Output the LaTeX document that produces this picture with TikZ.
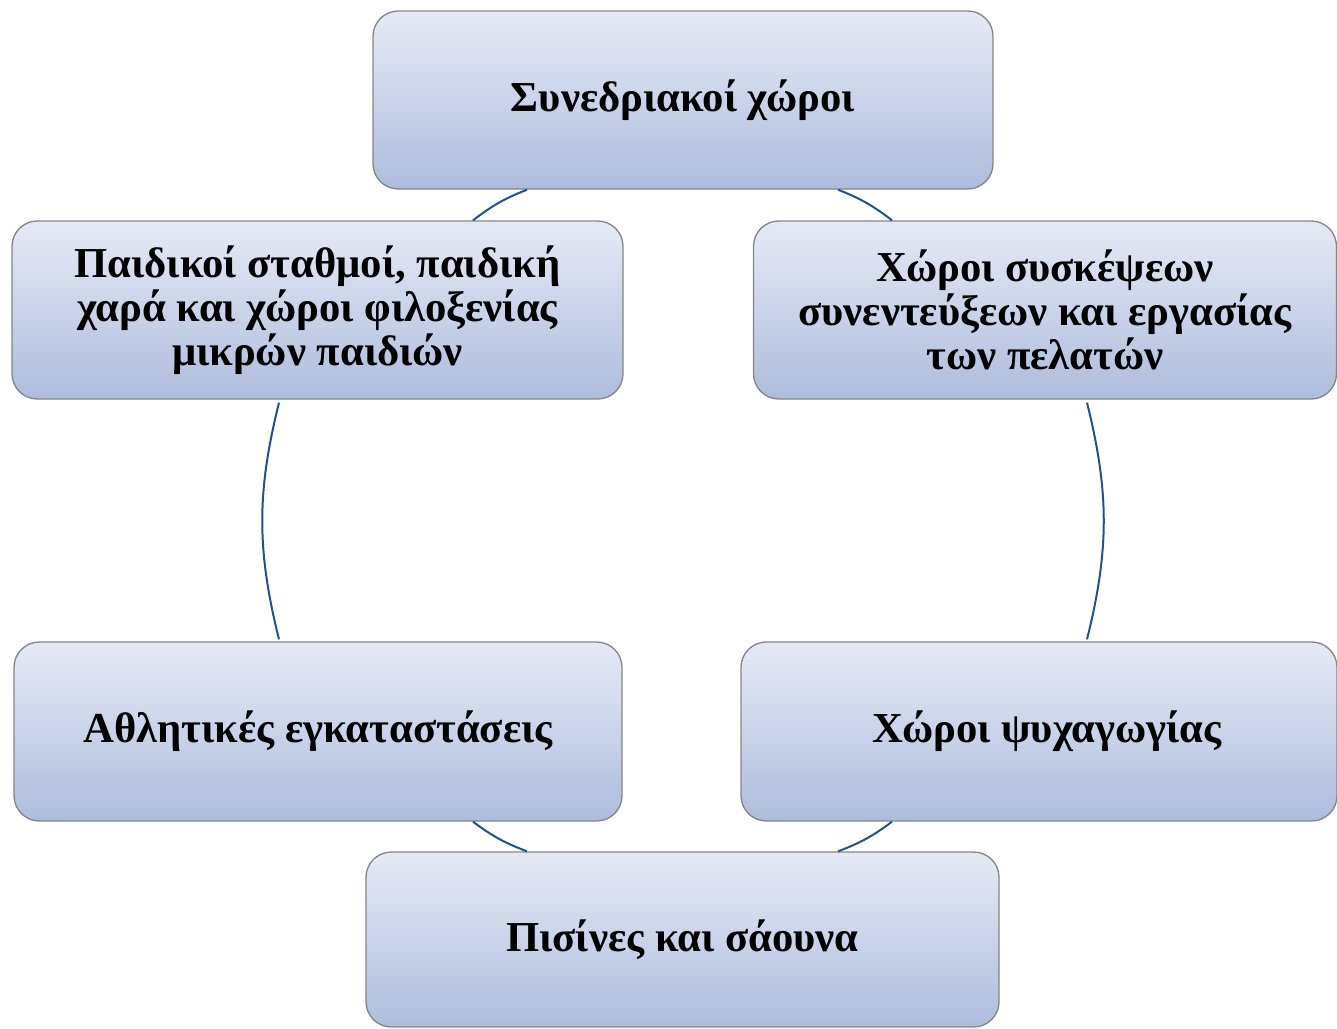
\documentclass[tikz,border=0pt]{standalone}
\usepackage{fontspec}
\setmainfont{Liberation Serif}
\usetikzlibrary{calc}
\definecolor{boxtop}{HTML}{E6EAF5}
\definecolor{boxbot}{HTML}{AEBCDC}
\definecolor{boxline}{HTML}{858585}
\definecolor{arcblue}{HTML}{24508E}
\begin{document}
\begin{tikzpicture}[x=0.75pt,y=-0.75pt,
  box/.style={draw=boxline, line width=1pt, rounded corners=19pt,
    top color=boxtop, bottom color=boxbot, align=center, inner sep=0pt,
    font=\bfseries\fontsize{32}{33}\selectfont},
  arcline/.style={draw=arcblue, line width=1.5pt}]
\useasboundingbox (0,0) rectangle (1337,1028);
\node[box, minimum width=465pt, minimum height=133.5pt] (n1) at (683,100) {Συνεδριακοί χώροι};
\node[box, minimum width=458.25pt, minimum height=133.5pt] (n2) at (317.5,310) {Παιδικοί σταθμοί, παιδική\\χαρά και χώροι φιλοξενίας\\μικρών παιδιών};
\node[box, minimum width=437.25pt, minimum height=133.5pt] (n3) at (1045,310) {Χώροι συσκέψεων\\συνεντεύξεων και εργασίας\\των πελατών};
\node[box, minimum width=456pt, minimum height=134.25pt] (n4) at (318,731.5) {Αθλητικές εγκαταστάσεις};
\node[box, minimum width=447pt, minimum height=134.25pt] (n5) at (1039,731.5) {\hspace*{12pt}Χώροι ψυχαγωγίας};
\node[box, minimum width=474.75pt, minimum height=131.25pt] (n6) at (682.5,939.5) {Πισίνες και σάουνα};
\draw[arcline] ($(n1.south)+(155,0)$) to[bend left=8] ($(n3.north)+(-153,0)$);
\draw[arcline] ($(n3.south)+(42,3)$) to[bend left=14] ($(n5.north)+(48,-2)$);
\draw[arcline] ($(n5.south)+(-147,0)$) to[bend left=8] ($(n6.north)+(155.5,0)$);
\draw[arcline] ($(n6.north)+(-155.5,0)$) to[bend left=8] ($(n4.south)+(155,0)$);
\draw[arcline] ($(n4.north)+(-39,-2)$) to[bend left=14] ($(n2.south)+(-38.5,3)$);
\draw[arcline] ($(n2.north)+(155.5,0)$) to[bend left=8] ($(n1.south)+(-156,0)$);
\end{tikzpicture}
\end{document}
